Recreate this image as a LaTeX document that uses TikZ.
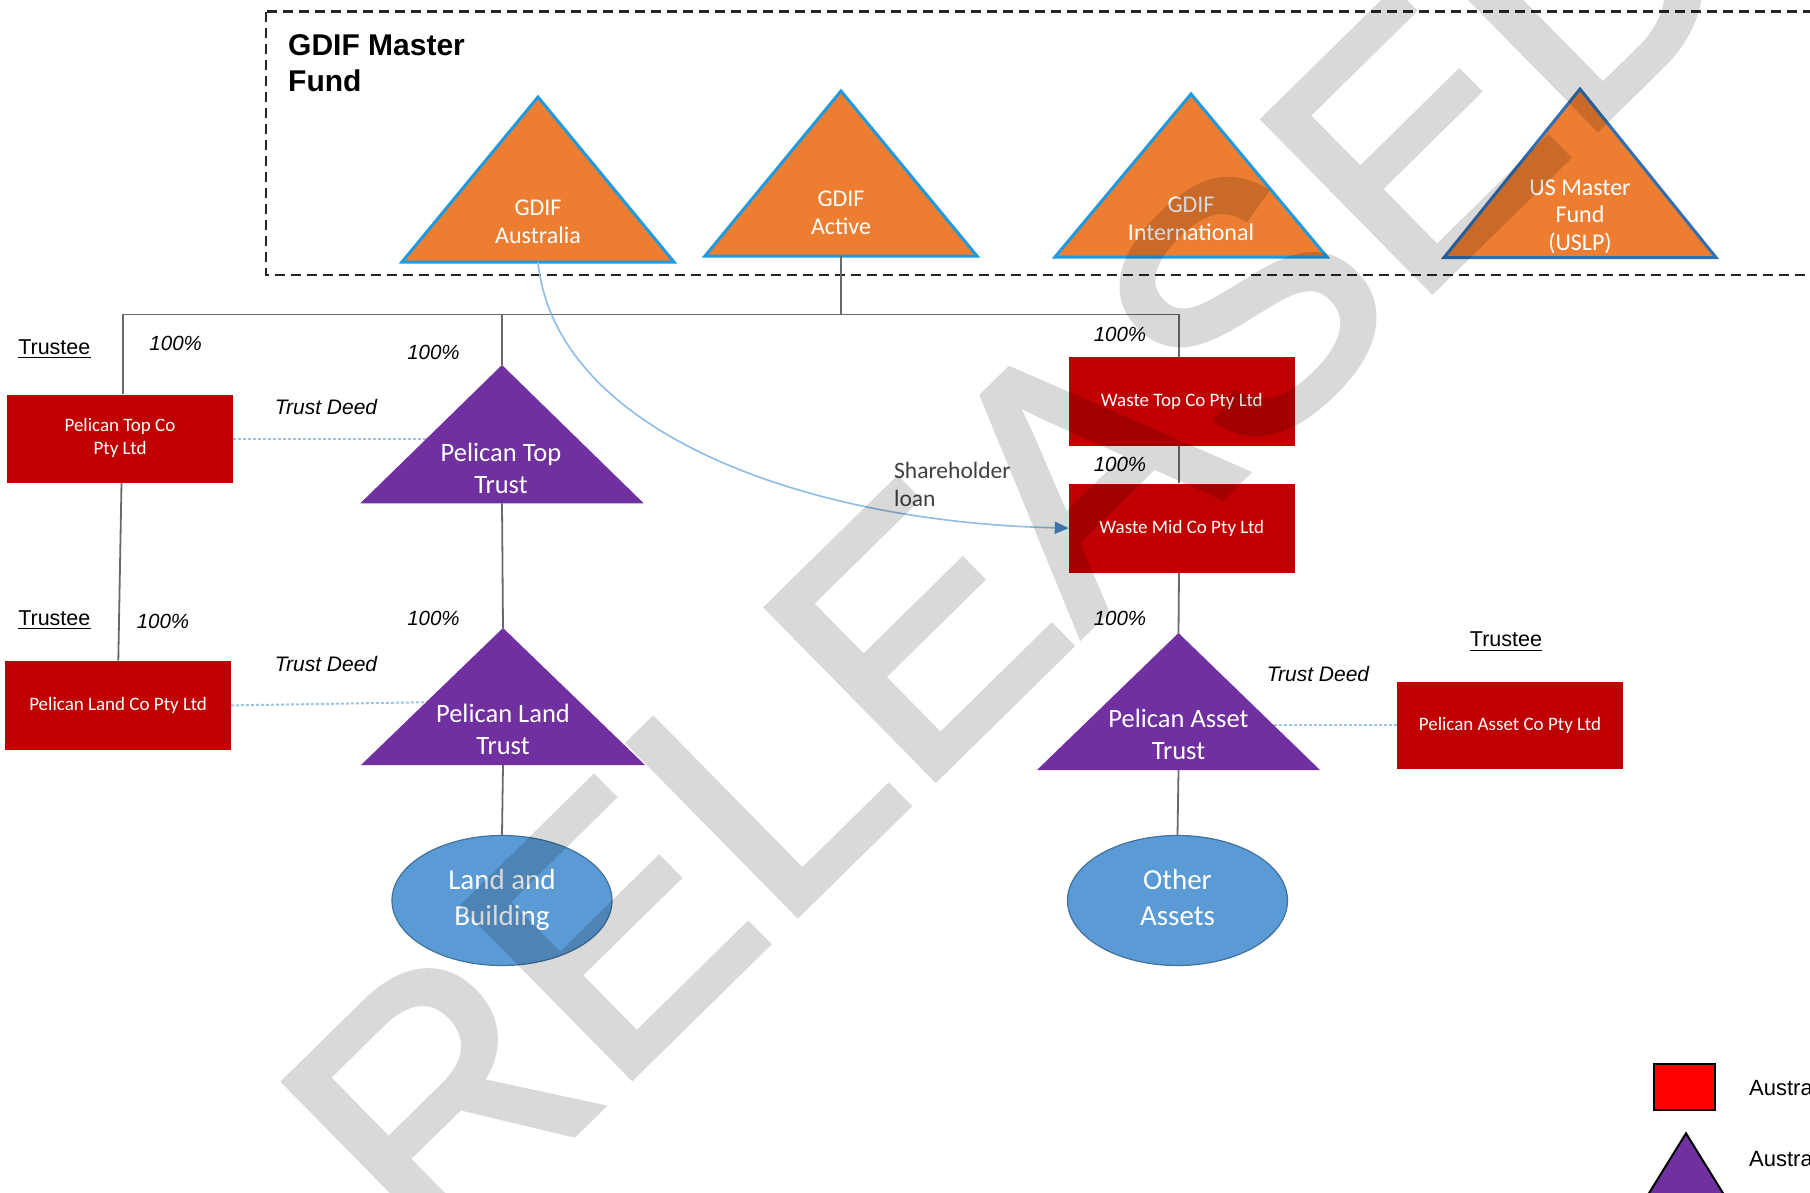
\documentclass[tikz,border=0pt]{standalone}
\usepackage{fontspec}
\setmainfont{Liberation Sans}
\newfontfamily\calfont{Carlito}
\newfontfamily\wmfont{Liberation Sans}[FakeBold=2]
\usetikzlibrary{arrows.meta,shapes.geometric}
\definecolor{orangef}{HTML}{ED7D31}
\definecolor{bluel}{HTML}{1E9BE0}
\definecolor{blued}{HTML}{2E6FB6}
\definecolor{redbox}{HTML}{C00000}
\definecolor{purplef}{HTML}{7030A0}
\definecolor{ellf}{HTML}{5B9BD5}
\definecolor{elld}{HTML}{41719C}
\definecolor{conncol}{HTML}{6A6A6A}
\definecolor{dotcol}{HTML}{9DC3E6}
\definecolor{loanline}{HTML}{8FBCE4}
\definecolor{loantip}{HTML}{4A88C7}
\definecolor{txtgray}{HTML}{404040}
\newcommand\ml[1]{\begin{tabular}[t]{@{}c@{}}#1\end{tabular}}
\newcommand\mll[1]{\begin{tabular}[t]{@{}l@{}}#1\end{tabular}}
% triangle: name, apex x, apex y, base y, half width, style
\newcommand\tri[6]{%
  \path[#6] (#2,#3) -- (#2+#5,#4) -- (#2-#5,#4) -- cycle;
  \coordinate (#1-apex) at (#2,#3);
  \coordinate (#1-base) at (#2,#4);
}
\begin{document}
\begin{tikzpicture}[x=1pt,y=-1pt,
  conn/.style={draw=conncol, line width=1.8pt},
  deed/.style={draw=dotcol, line width=2pt, dash pattern=on 3pt off 2pt},
  fundtri/.style={fill=orangef, draw=bluel, line width=3pt, line join=miter},
  usmtri/.style={fill=orangef, draw=blued, line width=3pt, line join=miter},
  trusttri/.style={fill=purplef},
  fundtxt/.style={text=white, inner sep=0pt, anchor=base, font=\calfont\fontsize{24}{28}\selectfont},
  trusttxt/.style={text=white, inner sep=0pt, anchor=base, font=\calfont\fontsize{26.5}{31.5}\selectfont},
  cobox/.style={rectangle, fill=redbox, text=white, inner sep=0pt, minimum width=226pt, minimum height=88.5pt, font=\calfont\fontsize{19}{22.7}\selectfont},
  asset/.style={ellipse, fill=ellf, draw=elld, line width=1.2pt, inner sep=0pt, minimum width=220pt, minimum height=130pt, text=white, font=\calfont\fontsize{29}{35.5}\selectfont},
  pct/.style={inner sep=0pt, anchor=base, font=\itshape\fontsize{20.5}{24}\selectfont},
  deedtxt/.style={inner sep=0pt, anchor=base, font=\itshape\fontsize{21}{25}\selectfont},
  trustee/.style={inner sep=0pt, anchor=base, font=\fontsize{21.5}{25}\selectfont},
  uline/.style={draw=black, line width=1.4pt},
  legtxt/.style={inner sep=0pt, anchor=base west, font=\fontsize{22}{26}\selectfont}
]
\useasboundingbox (0,0) rectangle (1810,1192);
\clip (0,0) rectangle (1810,1192);
\fill[white] (0,0) rectangle (1810,1192);

% master fund frame
\draw[black!85, line width=2.6pt, dash pattern=on 10pt off 6pt] (266,11.5) rectangle (1840,275);
\node[inner sep=0pt, anchor=base west, font=\bfseries\fontsize{30}{36.7}\selectfont] (title) at (288,55) {\mll{GDIF Master\\Fund}};

% coordinates of the ownership bus
\coordinate (hlL) at (123,314.5);
\coordinate (hlR) at (1179,314.5);

% company boxes
\node[cobox] (ptc) at (120,438.8) {\ml{Pelican Top Co\\Pty Ltd}};
\node[cobox, minimum width=225.4pt, minimum height=89.3pt] (plc) at (118.1,705.4) {Pelican Land Co Pty Ltd};
\node[cobox, minimum width=225.6pt, minimum height=89pt] (wtc) at (1181.8,401.5) {Waste Top Co Pty Ltd};
\node[cobox, minimum width=225.6pt, minimum height=89.2pt] (wmc) at (1181.8,528.1) {Waste Mid Co Pty Ltd};
\node[cobox, minimum width=225.8pt, minimum height=87.8pt] (pac) at (1509.9,725.4) {Pelican Asset Co Pty Ltd};

% trust deed dotted links (drawn before the trusts)
\draw[deed] (ptc.east) -- (502,438.8);
\draw[deed] (plc.east) -- (502,701);
\draw[deed] (pac.west) -- (1178.5,725.4);

% fund triangles
\tri{aus}{538}{97}{262}{136}{fundtri}
\tri{act}{841}{91}{256}{136}{fundtri}
\tri{intl}{1191}{94}{257}{136}{fundtri}
\tri{usm}{1580}{89}{257.5}{136}{usmtri}
\node[fundtxt] (ausT) at (538,215) {\ml{GDIF\\Australia}};
\node[fundtxt] (actT) at (841,206.7) {\ml{GDIF\\Active}};
\node[fundtxt] (intlT) at (1191,212) {\ml{GDIF\\International}};
\node[fundtxt, font=\calfont\fontsize{24}{27.7}\selectfont] (usmT) at (1580,195) {\ml{US Master\\Fund\\(USLP)}};

% trust triangles
\tri{ptt}{502}{365}{503.3}{141.7}{trusttri}
\tri{plt}{503}{628}{765}{142}{trusttri}
\tri{pat}{1178.5}{633}{770}{141.5}{trusttri}
\node[trusttxt] (pttT) at (501,461.7) {\ml{Pelican Top\\Trust}};
\node[trusttxt] (pltT) at (503,722.7) {\ml{Pelican Land\\Trust}};
\node[trusttxt, font=\calfont\fontsize{26.5}{32}\selectfont] (patT) at (1178.5,727.7) {\ml{Pelican Asset\\Trust}};

% assets
\node[asset] (land) at (502,900.5) {\ml{Land and\\Building}};
\node[asset] (other) at (1177.5,900.5) {\ml{Other\\Assets}};

% ownership connectors
\draw[conn, line join=miter] (hlL |- ptc.north) -- (hlL) -- (hlR) -- (hlR |- wtc.north);
\draw[conn] (act-base) -- (act-base |- hlL);
\draw[conn] (ptt-apex |- hlL) -- (ptt-apex);
\draw[conn] (121.5,483) -- (118.3,660.7);
\draw[conn] (hlR |- wtc.south) -- (hlR |- wmc.north);
\draw[conn] (hlR |- wmc.south) -- (pat-apex);
\draw[conn] (ptt-base) -- (plt-apex);
\draw[conn] (plt-base) -- (land.north);
\draw[conn] (pat-base) -- (other.north);

% shareholder loan
\draw[loanline, line width=1.6pt, -{Triangle[length=14pt,width=12pt,color=loantip]}]
  (aus-base) .. controls (555,430) and (800,522) .. (wmc.west);
\node[inner sep=0pt, anchor=base west, text=txtgray, font=\calfont\fontsize{23.5}{28}\selectfont] (loan) at (894,478) {\mll{Shareholder\\loan}};

% percentages
\node[pct] (p1) at (175.7,350) {100\%};
\node[pct] (p2) at (433.5,359.3) {100\%};
\node[pct] (p3) at (163,628.3) {100\%};
\node[pct] (p4) at (433.5,625) {100\%};
\node[pct] (p5) at (1120,341.7) {100\%};
\node[pct] (p6) at (1120,471.7) {100\%};
\node[pct] (p7) at (1120,625) {100\%};

% trust deed labels
\node[deedtxt] (d1) at (326,414.3) {Trust Deed};
\node[deedtxt] (d2) at (326,671) {Trust Deed};
\node[deedtxt] (d3) at (1318,681) {Trust Deed};

% trustee labels
\node[trustee] (t1) at (54.3,354) {Trustee};
\node[trustee] (t2) at (54.3,625) {Trustee};
\node[trustee] (t3) at (1506,646.7) {Trustee};
\foreach \t in {t1,t2,t3}
  \draw[uline] ([yshift=-3.6pt]\t.base west) -- ([yshift=-3.6pt]\t.base east);

% legend
\node[rectangle, draw=black, line width=2pt, fill=red, minimum width=61pt, minimum height=46pt, inner sep=0pt] (legR) at (1684,1087.4) {};
\node[legtxt] (legRT) at (1749,1095) {Austra};
\path[fill=purplef, draw=black, line width=2pt, line join=miter] (1686,1133.3) -- (1739.6,1220) -- (1632.4,1220) -- cycle;
\coordinate (legT) at (1686,1133.3);
\node[legtxt] (legTT) at (1749,1166.7) {Austra};

% watermark
\begin{scope}[transparency group, opacity=0.15]
\node[rotate=44.5, text=black, inner sep=0pt, font=\wmfont\fontsize{348}{348}\selectfont] (wm) at (1010.9,536.4) {RELEASED};
\end{scope}
\end{tikzpicture}
\end{document}
